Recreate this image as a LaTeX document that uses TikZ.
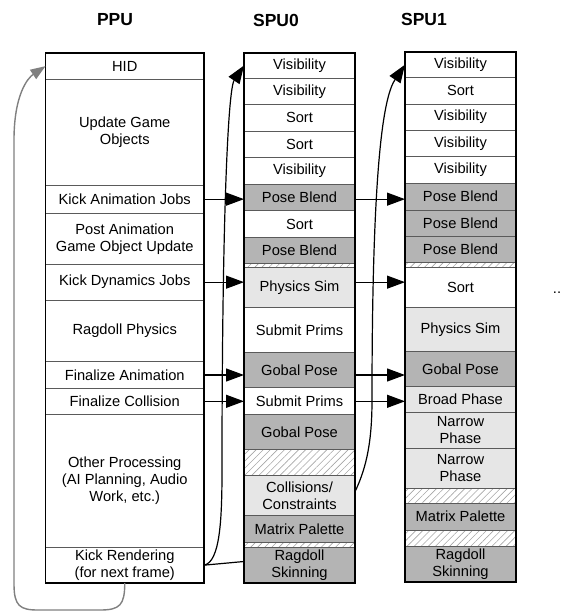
\documentclass[tikz,border=0pt]{standalone}
\usepackage{fontspec}
\setmainfont{Liberation Sans}
\usepackage{tikz}
\usetikzlibrary{arrows.meta,patterns.meta}
\definecolor{dkcell}{HTML}{B4B4B4}
\definecolor{ltcell}{HTML}{E6E6E6}
\definecolor{rowline}{HTML}{5A5A5A}
\newcommand{\blk}[6]{\node[blk,#2,minimum height={#5-#4}] (#1) at (#3,#4) {#6};}
\tikzset{blk/.style={draw=rowline,line width=0.8pt,anchor=north west,inner sep=0pt,outer sep=0pt,
    align=center,font=\fontsize{14.67}{17}\selectfont},
  ppu/.style={minimum width=158.5}, spu/.style={minimum width=111},
  dk/.style={fill=dkcell}, lt/.style={fill=ltcell},
  hatch/.style={pattern={Lines[angle=45,distance=5pt,line width=0.6pt]},pattern color=black!35},
  frame/.style={line width=1.8pt},
  arr/.style={line width=1.2pt,-{Triangle[length=18pt,width=13pt]}},
  back/.style={gray,line width=1.4pt,-{Triangle[length=15pt,width=11pt]}},
  ttl/.style={font=\fontsize{17.5}{20}\selectfont\bfseries}}

\begin{document}
\begin{tikzpicture}[x=1pt,y=-1pt]
\useasboundingbox (0,0) rectangle (566,614);
\node[ttl] (tp) at (115,20) {PPU}; \node[ttl] (ta) at (276,20) {SPU0}; \node[ttl] (tb) at (424,19) {SPU1};
\blk{p1}{ppu}{45.5}{53}{79.3}{HID}
\blk{p2}{ppu}{45.5}{79.3}{185}{Update Game\\Objects}
\blk{p3}{ppu}{45.5}{185}{213.3}{Kick Animation Jobs}
\blk{p4}{ppu}{45.5}{213.3}{264.3}{Post Animation\\Game Object Update}
\blk{p5}{ppu}{45.5}{264.3}{300}{Kick Dynamics Jobs}
\blk{p6}{ppu}{45.5}{300}{361.7}{Ragdoll Physics}
\blk{p7}{ppu}{45.5}{361.7}{388.3}{Finalize Animation}
\blk{p8}{ppu}{45.5}{388.3}{414.3}{Finalize Collision}
\blk{p9}{ppu}{45.5}{414.3}{547.3}{Other Processing\\(AI Planning, Audio\\Work, etc.)}
\blk{p10}{ppu}{45.5}{547.3}{583}{Kick Rendering\\(for next frame)}
\blk{a1}{spu}{244}{52.7}{78.3}{Visibility}
\blk{a2}{spu}{244}{78.3}{104.3}{Visibility}
\blk{a3}{spu}{244}{104.3}{131}{Sort}
\blk{a4}{spu}{244}{131}{157.3}{Sort}
\blk{a5}{spu}{244}{157.3}{184}{Visibility}
\blk{a6}{spu,dk}{244}{184}{210.7}{Pose Blend}
\blk{a7}{spu}{244}{210.7}{237.3}{Sort}
\blk{a8}{spu,dk}{244}{237.3}{263.3}{Pose Blend}
\blk{a9}{spu,hatch}{244}{263.3}{267.7}{}
\blk{a10}{spu,lt}{244}{267.7}{307.7}{Physics Sim}
\blk{a11}{spu}{244}{307.7}{352.3}{Submit Prims}
\blk{a12}{spu,dk}{244}{352.3}{387.3}{Gobal Pose}
\blk{a13}{spu}{244}{387.3}{414.3}{Submit Prims}
\blk{a14}{spu,dk}{244}{414.3}{449.3}{Gobal Pose}
\blk{a15}{spu,hatch}{244}{449.3}{475.7}{}
\blk{a16}{spu,lt}{244}{475.7}{515.7}{Collisions/\\Constraints}
\blk{a17}{spu,dk}{244}{515.7}{542.3}{Matrix Palette}
\blk{a18}{spu,hatch}{244}{542.3}{547.7}{}
\blk{a19}{spu,dk}{244}{547.7}{583.3}{Ragdoll\\Skinning}
\blk{b1}{spu}{405}{52}{77.3}{Visibility}
\blk{b2}{spu}{405}{77.3}{104}{Sort}
\blk{b3}{spu}{405}{104}{130}{Visibility}
\blk{b4}{spu}{405}{130}{156.7}{Visibility}
\blk{b5}{spu}{405}{156.7}{183.3}{Visibility}
\blk{b6}{spu,dk}{405}{183.3}{210}{Pose Blend}
\blk{b7}{spu,dk}{405}{210}{236.7}{Pose Blend}
\blk{b8}{spu,dk}{405}{236.7}{262.3}{Pose Blend}
\blk{b9}{spu,hatch}{405}{262.3}{267.3}{}
\blk{b10}{spu}{405}{267.3}{307.3}{Sort}
\blk{b11}{spu,lt}{405}{307.3}{351.7}{Physics Sim}
\blk{b12}{spu,dk}{405}{351.7}{386.7}{Gobal Pose}
\blk{b13}{spu,lt}{405}{386.7}{412.7}{Broad Phase}
\blk{b14}{spu,lt}{405}{412.7}{448.3}{Narrow\\Phase}
\blk{b15}{spu,lt}{405}{448.3}{488.3}{Narrow\\Phase}
\blk{b16}{spu,hatch}{405}{488.3}{503.3}{}
\blk{b17}{spu,dk}{405}{503.3}{530}{Matrix Palette}
\blk{b18}{spu,hatch}{405}{530}{546}{}
\blk{b19}{spu,dk}{405}{546}{582.3}{Ragdoll\\Skinning}
\draw[frame] (p1.north west) rectangle (p10.south east);
\draw[frame] (a1.north west) rectangle (a19.south east);
\draw[frame] (b1.north west) rectangle (b19.south east);
\node[font=\fontsize{14.67}{17}\selectfont] (more) at (557,293) {..};
\draw[arr] (p3.east) -- (p3.east -| a6.west); \draw[arr] (a6.east |- p3.east) -- (p3.east -| b6.west);
\draw[arr] (p5.east) -- (p5.east -| a10.west); \draw[arr] (a10.east |- p5.east) -- (p5.east -| b10.west);
\draw[arr] (p7.east) -- (p7.east -| a12.west); \draw[arr] (a12.east |- p7.east) -- (p7.east -| b12.west);
\draw[arr] (p8.east) -- (p8.east -| a13.west); \draw[arr] (a13.east |- p8.east) -- (p8.east -| b13.west);
\coordinate (bend0) at (222,470); \coordinate (bend1) at (372,400);
\draw[line width=1.2pt] (p10.east) -- ([yshift=4pt]a19.west);
\draw[arr] (p10.east) .. controls +(16,-3) and +(0,50) .. (bend0) .. controls +(0,-250) and +(-16,24) .. (a1.west);
\draw[arr] ([yshift=4pt]a16.east) .. controls +(12,-25) and +(0,40) .. (bend1) .. controls +(0,-250) and +(-20,30) .. (b1.west);
\coordinate (g1) at (100,610); \coordinate (g2) at (38,610); \coordinate (g3) at (14,584); \coordinate (g4) at (14,140);
\draw[back] (p10.south) .. controls +(0,22) and +(20,0) .. (g1) -- (g2) .. controls +(-18,0) and +(0,22) .. (g3)
  -- (g4) .. controls +(0,-45) and +(-18,12) .. (p1.west);
\end{tikzpicture}
\end{document}
